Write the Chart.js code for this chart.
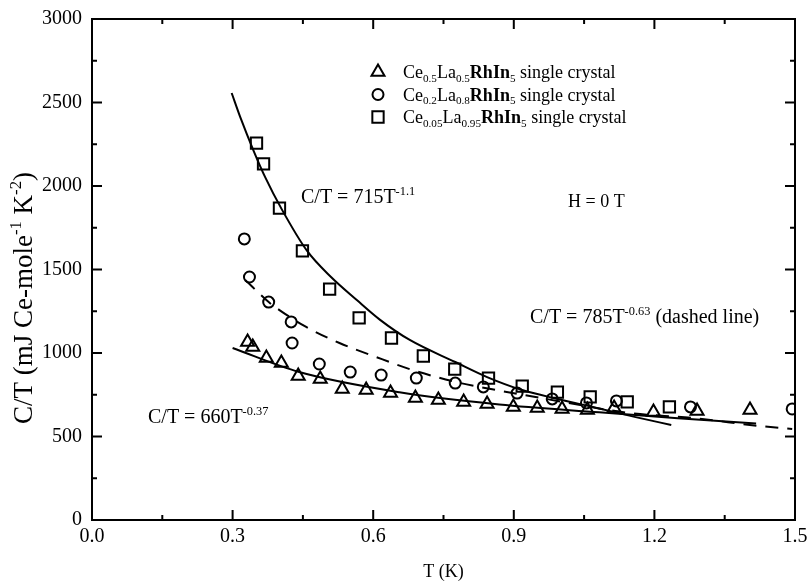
<!DOCTYPE html>
<html>
<head>
<meta charset="utf-8">
<script src="https://cdn.jsdelivr.net/npm/chart.js@4.4.1/dist/chart.umd.min.js"></script>
<style>
  html, body { margin: 0; padding: 0; background: #fff; }
  .wrap { width: 807px; height: 584px; position: relative; }
</style>
</head>
<body>
<div class="wrap"><canvas id="c" width="807" height="584"></canvas></div>
<script>
// Ce0.5La0.5RhIn5 (triangles)
const tTri = [0.332, 0.343, 0.372, 0.404, 0.440, 0.487, 0.534, 0.585, 0.637, 0.690, 0.739, 0.793, 0.843, 0.899, 0.950, 1.003, 1.057, 1.114, 1.198, 1.291, 1.404];
const cTri = [1066, 1036, 970, 940, 862, 844, 784, 778, 760, 730, 718, 707, 695, 677, 671, 665, 659, 671, 647, 653, 659];
// Ce0.2La0.8RhIn5 (circles)
const tCir = [0.325, 0.336, 0.377, 0.425, 0.427, 0.485, 0.551, 0.617, 0.692, 0.775, 0.835, 0.907, 0.982, 1.055, 1.119, 1.277, 1.494];
const cCir = [1683, 1455, 1305, 1186, 1060, 934, 886, 868, 850, 820, 797, 760, 725, 701, 713, 677, 665];
// Ce0.05La0.95RhIn5 (squares)
const tSq = [0.351, 0.366, 0.400, 0.449, 0.507, 0.570, 0.639, 0.707, 0.774, 0.846, 0.918, 0.993, 1.063, 1.142, 1.232];
const cSq = [2257, 2132, 1868, 1611, 1383, 1210, 1090, 982, 904, 850, 802, 766, 737, 707, 677];

// fitted curves
const tFit1 = [0.298, 0.318, 0.3435, 0.37, 0.405, 0.459, 0.51, 0.565, 0.614, 0.678, 0.775, 0.843, 0.918, 0.993, 1.082, 1.16, 1.236];
const cFit1 = [2557, 2400, 2220, 2050, 1860, 1611, 1455, 1317, 1200, 1078, 946, 856, 778, 725, 668, 616, 569];
const tFit2 = [0.327, 0.377, 0.40, 0.457, 0.528, 0.606, 0.684, 0.777, 0.863, 0.969, 1.146, 1.281, 1.424, 1.494];
const cFit2 = [1437, 1305, 1257, 1156, 1060, 976, 898, 826, 778, 725, 641, 611, 563, 545];
const tFit3 = [0.30, 0.442, 0.656, 0.869, 1.082, 1.25, 1.417];
const cFit3 = [1030, 886, 765, 692, 645, 610, 578];

const xTicks = [0, 0.3, 0.6, 0.9, 1.2, 1.5];
const yTicks = [0, 500, 1000, 1500, 2000, 2500, 3000];

const SERIF = '"Liberation Serif", "Times New Roman", serif';

function pts(xs, ys) {
    return xs.map((x, i) => ({ x: x, y: ys[i] }));
}

function markers(label, xs, ys, style, r) {
    return {
        label: label,
        data: pts(xs, ys),
        showLine: false,
        pointStyle: style,
        pointRadius: r,
        pointBorderWidth: 2,
        pointBorderColor: "#000",
        pointBackgroundColor: "rgba(0,0,0,0)",
    };
}

function curve(xs, ys, dash) {
    return {
        data: pts(xs, ys),
        showLine: true,
        borderColor: "#000",
        borderWidth: 2,
        borderDash: dash,
        pointRadius: 0,
        cubicInterpolationMode: "monotone",
        fill: false,
    };
}

// text with sub/superscripts
function partFont(kind, size) {
    let fs = size, weight = "";
    if (kind === "sub" || kind === "sup") fs = size * 0.62;
    if (kind === "b") weight = "bold ";
    return weight + fs + "px " + SERIF;
}

function richWidth(ctx, parts, size) {
    let w = 0;
    parts.forEach(([txt, kind]) => {
        ctx.font = partFont(kind, size);
        w += ctx.measureText(txt).width;
    });
    return w;
}

function richText(ctx, x, y, parts, size) {
    let cx = x;
    ctx.textBaseline = "alphabetic";
    ctx.textAlign = "left";
    parts.forEach(([txt, kind]) => {
        let dy = 0;
        if (kind === "sub") dy = size * 0.22;
        if (kind === "sup") dy = -size * 0.42;
        ctx.font = partFont(kind, size);
        ctx.fillText(txt, cx, y + dy);
        cx += ctx.measureText(txt).width;
    });
}

const framePlugin = {
    id: "frame",
    afterDraw(chart) {
        const ctx = chart.ctx, a = chart.chartArea;
        const xs = chart.scales.x, ys = chart.scales.y;
        ctx.save();
        ctx.strokeStyle = "#000";
        ctx.lineWidth = 2;
        ctx.strokeRect(a.left, a.top, a.right - a.left, a.bottom - a.top);
        ctx.beginPath();
        for (let v = 0; v <= 1.5001; v += 0.15) {
            const px = xs.getPixelForValue(v);
            const len = Math.abs(v / 0.3 - Math.round(v / 0.3)) < 0.01 ? 10 : 5;
            ctx.moveTo(px, a.bottom); ctx.lineTo(px, a.bottom - len);
            ctx.moveTo(px, a.top); ctx.lineTo(px, a.top + len);
        }
        for (let v = 0; v <= 3000; v += 250) {
            const py = ys.getPixelForValue(v);
            const len = v % 500 === 0 ? 10 : 5;
            ctx.moveTo(a.left, py); ctx.lineTo(a.left + len, py);
            ctx.moveTo(a.right, py); ctx.lineTo(a.right - len, py);
        }
        ctx.stroke();

        // legend
        const rows = [
            ["triangle", 7.5, ["0.5", "0.5"]],
            ["circle", 5.5, ["0.2", "0.8"]],
            ["rect", 8, ["0.05", "0.95"]],
        ];
        rows.forEach((row, i) => {
            const y = 72 + i * 22.5;
            ctx.fillStyle = "rgba(0,0,0,0)";
            ctx.lineWidth = 2;
            Chart.helpers.drawPoint(ctx, { pointStyle: row[0], radius: row[1], borderWidth: 2, rotation: 0 }, 378, y);
            ctx.fillStyle = "#000";
            richText(ctx, 403, y + 6, [["Ce", ""], [row[2][0], "sub"], ["La", ""], [row[2][1], "sub"],
                ["RhIn", "b"], ["5", "sub"], [" single crystal", ""]], 18);
        });

        // fit annotations
        ctx.fillStyle = "#000";
        richText(ctx, 301, 203, [["C/T = 715T", ""], ["-1.1", "sup"]], 20);
        richText(ctx, 568, 207, [["H = 0 T", ""]], 18);
        richText(ctx, 530, 323, [["C/T = 785T", ""], ["-0.63", "sup"], [" (dashed line)", ""]], 20);
        richText(ctx, 148, 423, [["C/T = 660T", ""], ["-0.37", "sup"]], 20);

        // y axis title
        const yTitle = [["C/T (mJ Ce-mole", ""], ["-1", "sup"], [" K", ""], ["-2", "sup"], [")", ""]];
        const size = 27;
        const w = richWidth(ctx, yTitle, size);
        ctx.translate(32, 298);
        ctx.rotate(-Math.PI / 2);
        richText(ctx, -w / 2, 0, yTitle, size);
        ctx.restore();
    },
};

new Chart(document.getElementById("c"), {
    type: "scatter",
    data: {
        datasets: [
            curve(tFit1, cFit1, []),
            curve(tFit2, cFit2, [13, 9]),
            curve(tFit3, cFit3, []),
            markers("Ce0.5La0.5RhIn5 single crystal", tTri, cTri, "triangle", 7.5),
            markers("Ce0.2La0.8RhIn5 single crystal", tCir, cCir, "circle", 5.5),
            markers("Ce0.05La0.95RhIn5 single crystal", tSq, cSq, "rect", 8),
        ],
    },
    options: {
        responsive: false,
        animation: false,
        layout: { padding: { top: 19, right: 12, left: 0, bottom: 0 } },
        plugins: {
            legend: { display: false },
            tooltip: { enabled: false },
        },
        scales: {
            x: {
                type: "linear",
                min: 0,
                max: 1.5,
                afterBuildTicks: (s) => { s.ticks = xTicks.map((v) => ({ value: v })); },
                afterFit: (s) => { s.height = 64; s.paddingLeft = 0; s.paddingRight = 0; },
                ticks: {
                    padding: 5,
                    color: "#000",
                    font: { family: SERIF, size: 20 },
                    callback: (v) => v.toFixed(1),
                },
                grid: { display: false, drawTicks: false },
                border: { display: false },
                title: {
                    display: true,
                    text: "T (K)",
                    color: "#000",
                    font: { family: SERIF, size: 18 },
                    padding: { top: 0, bottom: 1 },
                },
            },
            y: {
                type: "linear",
                min: 0,
                max: 3000,
                afterBuildTicks: (s) => { s.ticks = yTicks.map((v) => ({ value: v })); },
                afterFit: (s) => { s.width = 92; s.paddingTop = 0; s.paddingBottom = 0; },
                ticks: {
                    padding: 10,
                    color: "#000",
                    font: { family: SERIF, size: 20 },
                    callback: (v) => String(v),
                },
                grid: { display: false, drawTicks: false },
                border: { display: false },
            },
        },
    },
    plugins: [framePlugin],
});
</script>
</body>
</html>
